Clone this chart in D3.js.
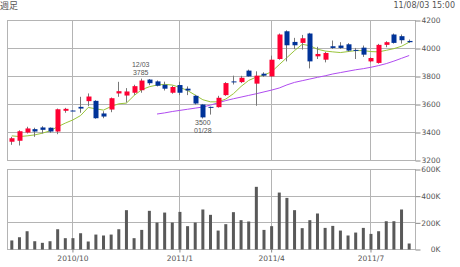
<!DOCTYPE html>
<html>
<head>
<meta charset="utf-8">
<script src="https://cdn.jsdelivr.net/npm/d3@7"></script>
<style>
  body { margin: 0; background: #fff; }
</style>
</head>
<body>
<div id="chart"></div>
<script>
// Weekly bars (Monday of each week)
const weeks = [
    '2010/08/02', '2010/08/09', '2010/08/16', '2010/08/23', '2010/08/30',
    '2010/09/06', '2010/09/13', '2010/09/20', '2010/09/27',
    '2010/10/04', '2010/10/11', '2010/10/18', '2010/10/25',
    '2010/11/01', '2010/11/08', '2010/11/15', '2010/11/22', '2010/11/29',
    '2010/12/06', '2010/12/13', '2010/12/20', '2010/12/27',
    '2011/01/03', '2011/01/10', '2011/01/17', '2011/01/24', '2011/01/31',
    '2011/02/07', '2011/02/14', '2011/02/21', '2011/02/28',
    '2011/03/07', '2011/03/14', '2011/03/21', '2011/03/28',
    '2011/04/04', '2011/04/11', '2011/04/18', '2011/04/25',
    '2011/05/02', '2011/05/09', '2011/05/16', '2011/05/23', '2011/05/30',
    '2011/06/06', '2011/06/13', '2011/06/20', '2011/06/27',
    '2011/07/04', '2011/07/11', '2011/07/18', '2011/07/25', '2011/08/01'
];

const open = [3334, 3341, 3400, 3424, 3436, 3434, 3407, 3555, 3557, 3583,
    3624, 3626, 3536, 3564, 3679, 3664, 3684, 3702, 3778, 3765,
    3741, 3684, 3739, 3713, 3662, 3600, 3583, 3581, 3667, 3765,
    3760, 3842, 3749, 3820, 3801, 3925, 4123, 4047, 4040, 4107,
    3944, 3920, 4016, 4021, 4030, 3990, 4006, 3908, 3897, 4026,
    4100, 4088, 4054];
const high = [3369, 3416, 3441, 3434, 3445, 3436, 3571, 3576, 3559, 3655,
    3679, 3631, 3552, 3650, 3762, 3717, 3741, 3785, 3782, 3772,
    3763, 3734, 3763, 3729, 3669, 3604, 3585, 3662, 3760, 3806,
    3805, 3849, 3837, 3830, 3949, 4107, 4130, 4076, 4097, 4112,
    4012, 3976, 4057, 4045, 4038, 4004, 4021, 3937, 4033, 4052,
    4107, 4100, 4064];
const low = [3312, 3307, 3393, 3369, 3393, 3398, 3388, 3541, 3553, 3541,
    3588, 3498, 3502, 3545, 3655, 3614, 3669, 3684, 3738, 3729,
    3700, 3677, 3667, 3667, 3600, 3500, 3528, 3578, 3662, 3743,
    3753, 3798, 3591, 3798, 3797, 3920, 3908, 3995, 3992, 3858,
    3925, 3901, 3997, 3997, 3978, 3925, 3940, 3901, 3892, 4009,
    4035, 4035, 4040];
const close = [3359, 3409, 3429, 3407, 3419, 3407, 3566, 3569, 3555, 3571,
    3657, 3502, 3514, 3645, 3695, 3693, 3731, 3771, 3752, 3734,
    3713, 3725, 3684, 3700, 3607, 3508, 3579, 3648, 3753, 3760,
    3791, 3801, 3806, 3806, 3920, 4100, 4023, 4023, 4073, 3908,
    3961, 3968, 4004, 4004, 3985, 3986, 3956, 3932, 4026, 4045,
    4040, 4059, 4045];

// Volume in thousands
const volume = [68, 92, 137, 62, 50, 62, 152, 85, 85, 122,
    60, 112, 105, 112, 152, 295, 85, 147, 290, 202,
    277, 202, 282, 175, 202, 300, 260, 142, 190, 280,
    220, 210, 470, 147, 175, 427, 387, 295, 160, 220,
    270, 162, 177, 142, 105, 127, 162, 117, 137, 212,
    212, 300, 45];

// Moving averages (short = green, long = purple)
const maShort = [3376, 3371, 3376, 3383, 3395, 3412, 3441, 3467, 3490, 3521,
    3579, 3569, 3560, 3586, 3605, 3610, 3664, 3706, 3727, 3739,
    3744, 3739, 3722, 3700, 3667, 3634, 3619, 3619, 3639, 3677,
    3729, 3772, 3796, 3810, 3834, 3885, 3935, 3985, 4030, 4020,
    3995, 3982, 3976, 3971, 3978, 3985, 3985, 3978, 3976, 3987,
    3999, 4016, 4045];
const maLong = [null, null, null, null, null, null, null, null, null, null,
    null, null, null, null, null, null, null, null, null, 3532,
    3540, 3550, 3558, 3566, 3574, 3582, 3596, 3612, 3628, 3641,
    3653, 3665, 3677, 3690, 3703, 3718, 3740, 3758, 3770, 3782,
    3794, 3805, 3818, 3828, 3838, 3848, 3856, 3866, 3878, 3892,
    3910, 3930, 3950];

const priceTicks = [3200, 3400, 3600, 3800, 4000, 4200];
const volumeTicks = [0, 200, 400, 600];
const monthWeeks = ['2010/09/27', '2011/01/03', '2011/03/28', '2011/06/27'];
const monthLabels = ['2010/10', '2011/1', '2011/4', '2011/7'];

// Marked high and low
const highWeek = '2010/11/29', highDate = '12/03';
const lowWeek = '2011/01/24', lowDate = '01/28';

const width = 460;
const height = 267;

const svg = d3.select('#chart')
    .append('svg')
    .attr('width', width)
    .attr('height', height)
    .style('font-family', '"DejaVu Sans", sans-serif');

// Scales
const x = d3.scaleBand()
    .domain(weeks)
    .range([8, 413]);
const cx = w => x(w) + x.bandwidth() / 2;

const yPrice = d3.scaleLinear()
    .domain([3200, 4200])
    .range([160.5, 20.5]);

const yVol = d3.scaleLinear()
    .domain([0, 600])
    .range([249.5, 169.5]);

const gridColor = '#b4b4b4';
const left = 7.5, right = 415.5;

// Header texts
svg.append('text')
    .attr('x', 0)
    .attr('y', 8.5)
    .attr('font-family', '"Noto Sans CJK JP", sans-serif')
    .attr('font-size', '9px')
    .attr('fill', '#555')
    .text('週足');

svg.append('text')
    .attr('x', 455)
    .attr('y', 8)
    .attr('text-anchor', 'end')
    .attr('font-size', '8px')
    .attr('fill', '#555')
    .text('11/08/03 15:00');

// Grid lines in both panels
const grid = svg.append('g')
    .attr('stroke', gridColor)
    .attr('stroke-width', 1)
    .attr('fill', 'none');

grid.selectAll('.hp')
    .data(priceTicks)
    .enter()
    .append('line')
    .attr('x1', left)
    .attr('x2', right)
    .attr('y1', d => yPrice(d))
    .attr('y2', d => yPrice(d));

grid.selectAll('.hv')
    .data(volumeTicks)
    .enter()
    .append('line')
    .attr('x1', left)
    .attr('x2', right)
    .attr('y1', d => Math.floor(yVol(d)) + 0.5)
    .attr('y2', d => Math.floor(yVol(d)) + 0.5);

monthWeeks.forEach(w => {
    const gx = Math.floor(cx(w)) + 0.5;
    grid.append('line')
        .attr('x1', gx).attr('x2', gx)
        .attr('y1', yPrice(4200)).attr('y2', yPrice(3200));
    grid.append('line')
        .attr('x1', gx).attr('x2', gx)
        .attr('y1', yVol(600)).attr('y2', yVol(0));
});

// Panel frames
grid.append('rect')
    .attr('x', left)
    .attr('y', yPrice(4200))
    .attr('width', right - left)
    .attr('height', yPrice(3200) - yPrice(4200));
grid.append('rect')
    .attr('x', left)
    .attr('y', yVol(600))
    .attr('width', right - left)
    .attr('height', yVol(0) - yVol(600));

// Right axes
const priceAxis = svg.append('g')
    .attr('transform', `translate(${right},0)`)
    .call(d3.axisRight(yPrice).tickValues(priceTicks).tickSize(5).tickPadding(2).tickFormat(d3.format('d')));

const volAxis = svg.append('g')
    .attr('transform', `translate(${right},0)`)
    .call(d3.axisRight(yVol).tickValues(volumeTicks).tickSize(5).tickPadding(2).tickFormat(d => d + 'K'));

// Bottom axis with month labels
const monthAxis = svg.append('g')
    .attr('transform', `translate(0,${yVol(0)})`)
    .call(d3.axisBottom(x).tickValues(monthWeeks).tickSize(3).tickPadding(3)
        .tickFormat(d => monthLabels[monthWeeks.indexOf(d)]));

[priceAxis, volAxis, monthAxis].forEach(ax => {
    ax.select('.domain').remove();
    ax.selectAll('line').attr('stroke', '#888');
    ax.selectAll('text')
        .attr('fill', '#555')
        .attr('font-size', '7.5px')
        .attr('font-family', '"DejaVu Sans", sans-serif');
});
priceAxis.selectAll('text').attr('x', 25).attr('text-anchor', 'end');
volAxis.selectAll('text').attr('x', 25).attr('text-anchor', 'end');

// Volume bars
svg.append('g')
    .selectAll('rect')
    .data(weeks)
    .enter()
    .append('rect')
    .attr('x', d => cx(d) - 1.5)
    .attr('y', (d, i) => yVol(volume[i]))
    .attr('width', 3)
    .attr('height', (d, i) => yVol(0) - yVol(volume[i]))
    .attr('fill', '#595959');

// Moving average lines
const maLine = d3.line()
    .defined(d => d.v != null)
    .x(d => cx(d.w))
    .y(d => yPrice(d.v));

svg.append('path')
    .datum(weeks.map((w, i) => ({ w: w, v: maLong[i] })))
    .attr('d', maLine)
    .attr('fill', 'none')
    .attr('stroke', '#b04cf0')
    .attr('stroke-width', 1);

svg.append('path')
    .datum(weeks.map((w, i) => ({ w: w, v: maShort[i] })))
    .attr('d', maLine)
    .attr('fill', 'none')
    .attr('stroke', '#99c43a')
    .attr('stroke-width', 1);

// Candles
const candles = svg.append('g')
    .selectAll('g')
    .data(weeks)
    .enter()
    .append('g');

candles.append('line')
    .attr('x1', d => Math.floor(cx(d)) + 0.5)
    .attr('x2', d => Math.floor(cx(d)) + 0.5)
    .attr('y1', (d, i) => yPrice(high[i]))
    .attr('y2', (d, i) => yPrice(low[i]))
    .attr('stroke', '#777')
    .attr('stroke-width', 1);

candles.append('rect')
    .attr('x', d => Math.floor(cx(d)) - 1.5)
    .attr('y', (d, i) => yPrice(Math.max(open[i], close[i])))
    .attr('width', 5)
    .attr('height', (d, i) => Math.max(1, yPrice(Math.min(open[i], close[i])) - yPrice(Math.max(open[i], close[i]))))
    .attr('fill', (d, i) => close[i] >= open[i] ? '#ff0033' : '#003399');

// High / low annotations
const hi = weeks.indexOf(highWeek);
const lo = weeks.indexOf(lowWeek);

const note = svg.append('g')
    .attr('font-family', '"Liberation Sans", Arial, sans-serif')
    .attr('font-size', '7px')
    .attr('fill', '#555')
    .attr('text-anchor', 'middle');

note.append('text')
    .attr('x', cx(highWeek) - 1)
    .attr('y', yPrice(high[hi]) - 11.5)
    .text(highDate);
note.append('text')
    .attr('x', cx(highWeek) - 1)
    .attr('y', yPrice(high[hi]) - 3.5)
    .text(high[hi]);
note.append('text')
    .attr('x', cx(lowWeek))
    .attr('y', yPrice(low[lo]) + 6.5)
    .text(low[lo]);
note.append('text')
    .attr('x', cx(lowWeek))
    .attr('y', yPrice(low[lo]) + 14.5)
    .text(lowDate);
</script>
</body>
</html>
